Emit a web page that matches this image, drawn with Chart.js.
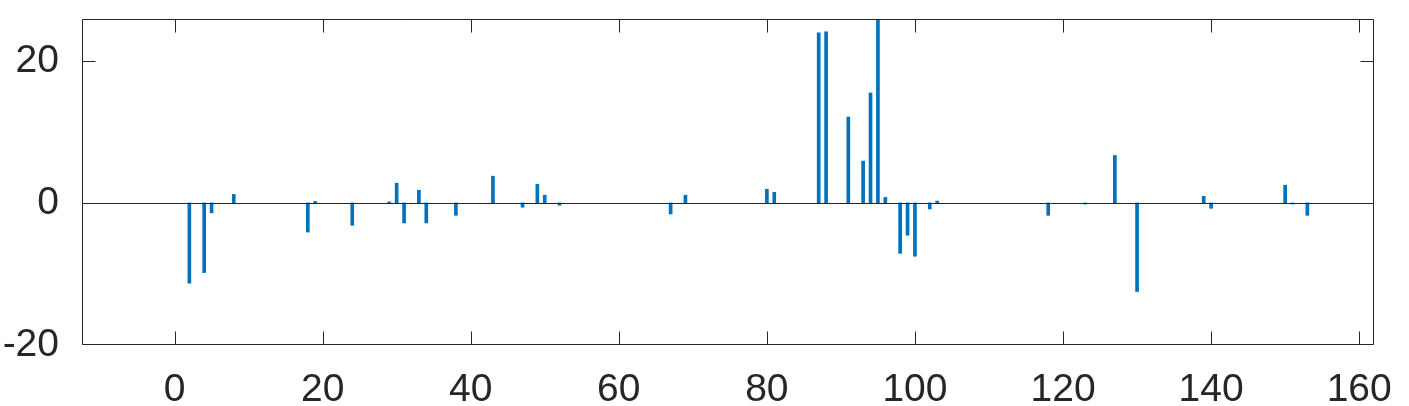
<!DOCTYPE html>
<html>
<head>
<meta charset="utf-8">
<script src="https://cdn.jsdelivr.net/npm/chart.js@4/dist/chart.umd.min.js"></script>
<style>
  html, body { margin: 0; padding: 0; background: #ffffff; }
  #wrap { width: 1409px; height: 406px; position: relative; }
</style>
</head>
<body>
<div id="wrap"><canvas id="c" width="1409" height="406"></canvas></div>
<script>
// ---- data ----
const xValues = [2, 4, 5, 8, 18, 19, 24, 29, 30, 31, 33, 34, 38, 43, 47, 49, 50, 52,
                 67, 69, 80, 81, 87, 88, 91, 93, 94, 95, 96, 98, 99, 100, 102, 103,
                 118, 123, 127, 130, 139, 140, 150, 151, 153];
const yValues = [-11.3, -9.8, -1.4, 1.2, -4.1, 0.2, -3.15, 0.15, 2.78, -2.82, 1.79, -2.82, -1.74, 3.77, -0.6, 2.64, 1.09, -0.32,
                 -1.55, 1.09, 1.93, 1.5, 23.96, 24.1, 12.1, 5.89, 15.49, 26.5, 0.78, -7.1, -4.54, -7.5, -0.85, 0.26,
                 -1.74, -0.15, 6.68, -12.47, 0.94, -0.75, 2.5, -0.15, -1.74];
const xTickValues = [0, 20, 40, 60, 80, 100, 120, 140, 160];
const yTickValues = [-20, 0, 20];
const xRange = [-12.5, 162];
const yRange = [-20, 25.9];

const barColor = '#0072BD';
const axisColor = '#262626';
const fontFamily = '"Liberation Sans", Arial, Helvetica, sans-serif';

const points = xValues.map((x, i) => ({ x: x, y: yValues[i] }));

const framePlugin = {
  id: 'matlabFrame',
  afterDatasetsDraw(chart) {
    const ctx = chart.ctx;
    const a = chart.chartArea;
    const xs = chart.scales.x, ys = chart.scales.y;
    const tl = 13;
    const L = Math.round(a.left) + 0.5, R = Math.round(a.right) - 0.5;
    const T = Math.round(a.top) + 0.5, B = Math.round(a.bottom) - 0.5;
    ctx.save();
    ctx.lineWidth = 1;
    ctx.strokeStyle = axisColor;
    // baseline at zero
    const y0 = Math.round(ys.getPixelForValue(0)) + 0.5;
    ctx.beginPath();
    ctx.moveTo(L, y0); ctx.lineTo(R, y0);
    ctx.stroke();
    // frame
    ctx.beginPath();
    ctx.rect(L, T, R - L, B - T);
    ctx.stroke();
    // inward ticks
    ctx.beginPath();
    xTickValues.forEach(v => {
      const px = Math.round(xs.getPixelForValue(v)) + 0.5;
      ctx.moveTo(px, B); ctx.lineTo(px, B - tl);
      ctx.moveTo(px, T); ctx.lineTo(px, T + tl);
    });
    yTickValues.forEach(v => {
      const py = Math.min(B, Math.max(T, Math.round(ys.getPixelForValue(v)) + 0.5));
      ctx.moveTo(L, py); ctx.lineTo(L + tl, py);
      ctx.moveTo(R, py); ctx.lineTo(R - tl, py);
    });
    ctx.stroke();
    ctx.restore();
  }
};

new Chart(document.getElementById('c'), {
  type: 'bar',
  data: {
    datasets: [{
      data: points,
      backgroundColor: barColor,
      borderWidth: 0,
      barThickness: 3,
      grouped: false
    }]
  },
  options: {
    responsive: false,
    animation: false,
    devicePixelRatio: 1,
    layout: { padding: { left: 0, top: 19, right: 35, bottom: 0 } },
    plugins: { legend: { display: false }, tooltip: { enabled: false } },
    scales: {
      x: {
        type: 'linear',
        min: xRange[0],
        max: xRange[1],
        offset: false,
        grid: { display: false },
        border: { display: false },
        afterBuildTicks: s => { s.ticks = xTickValues.map(v => ({ value: v })); },
        afterFit: s => { s.height = 61; s.paddingLeft = 0; s.paddingRight = 0; },
        ticks: {
          padding: 14,
          maxRotation: 0,
          autoSkip: false,
          color: axisColor,
          font: { family: fontFamily, size: 39 },
          callback: v => String(v)
        }
      },
      y: {
        type: 'linear',
        min: yRange[0],
        max: yRange[1],
        grid: { display: false },
        border: { display: false },
        afterBuildTicks: s => { s.ticks = yTickValues.map(v => ({ value: v })); },
        afterFit: s => { s.width = 82; s.paddingTop = 0; s.paddingBottom = 0; },
        ticks: {
          padding: 15,
          autoSkip: false,
          color: axisColor,
          font: { family: fontFamily, size: 39 },
          callback: v => String(v)
        }
      }
    }
  },
  plugins: [framePlugin]
});
</script>
</body>
</html>
